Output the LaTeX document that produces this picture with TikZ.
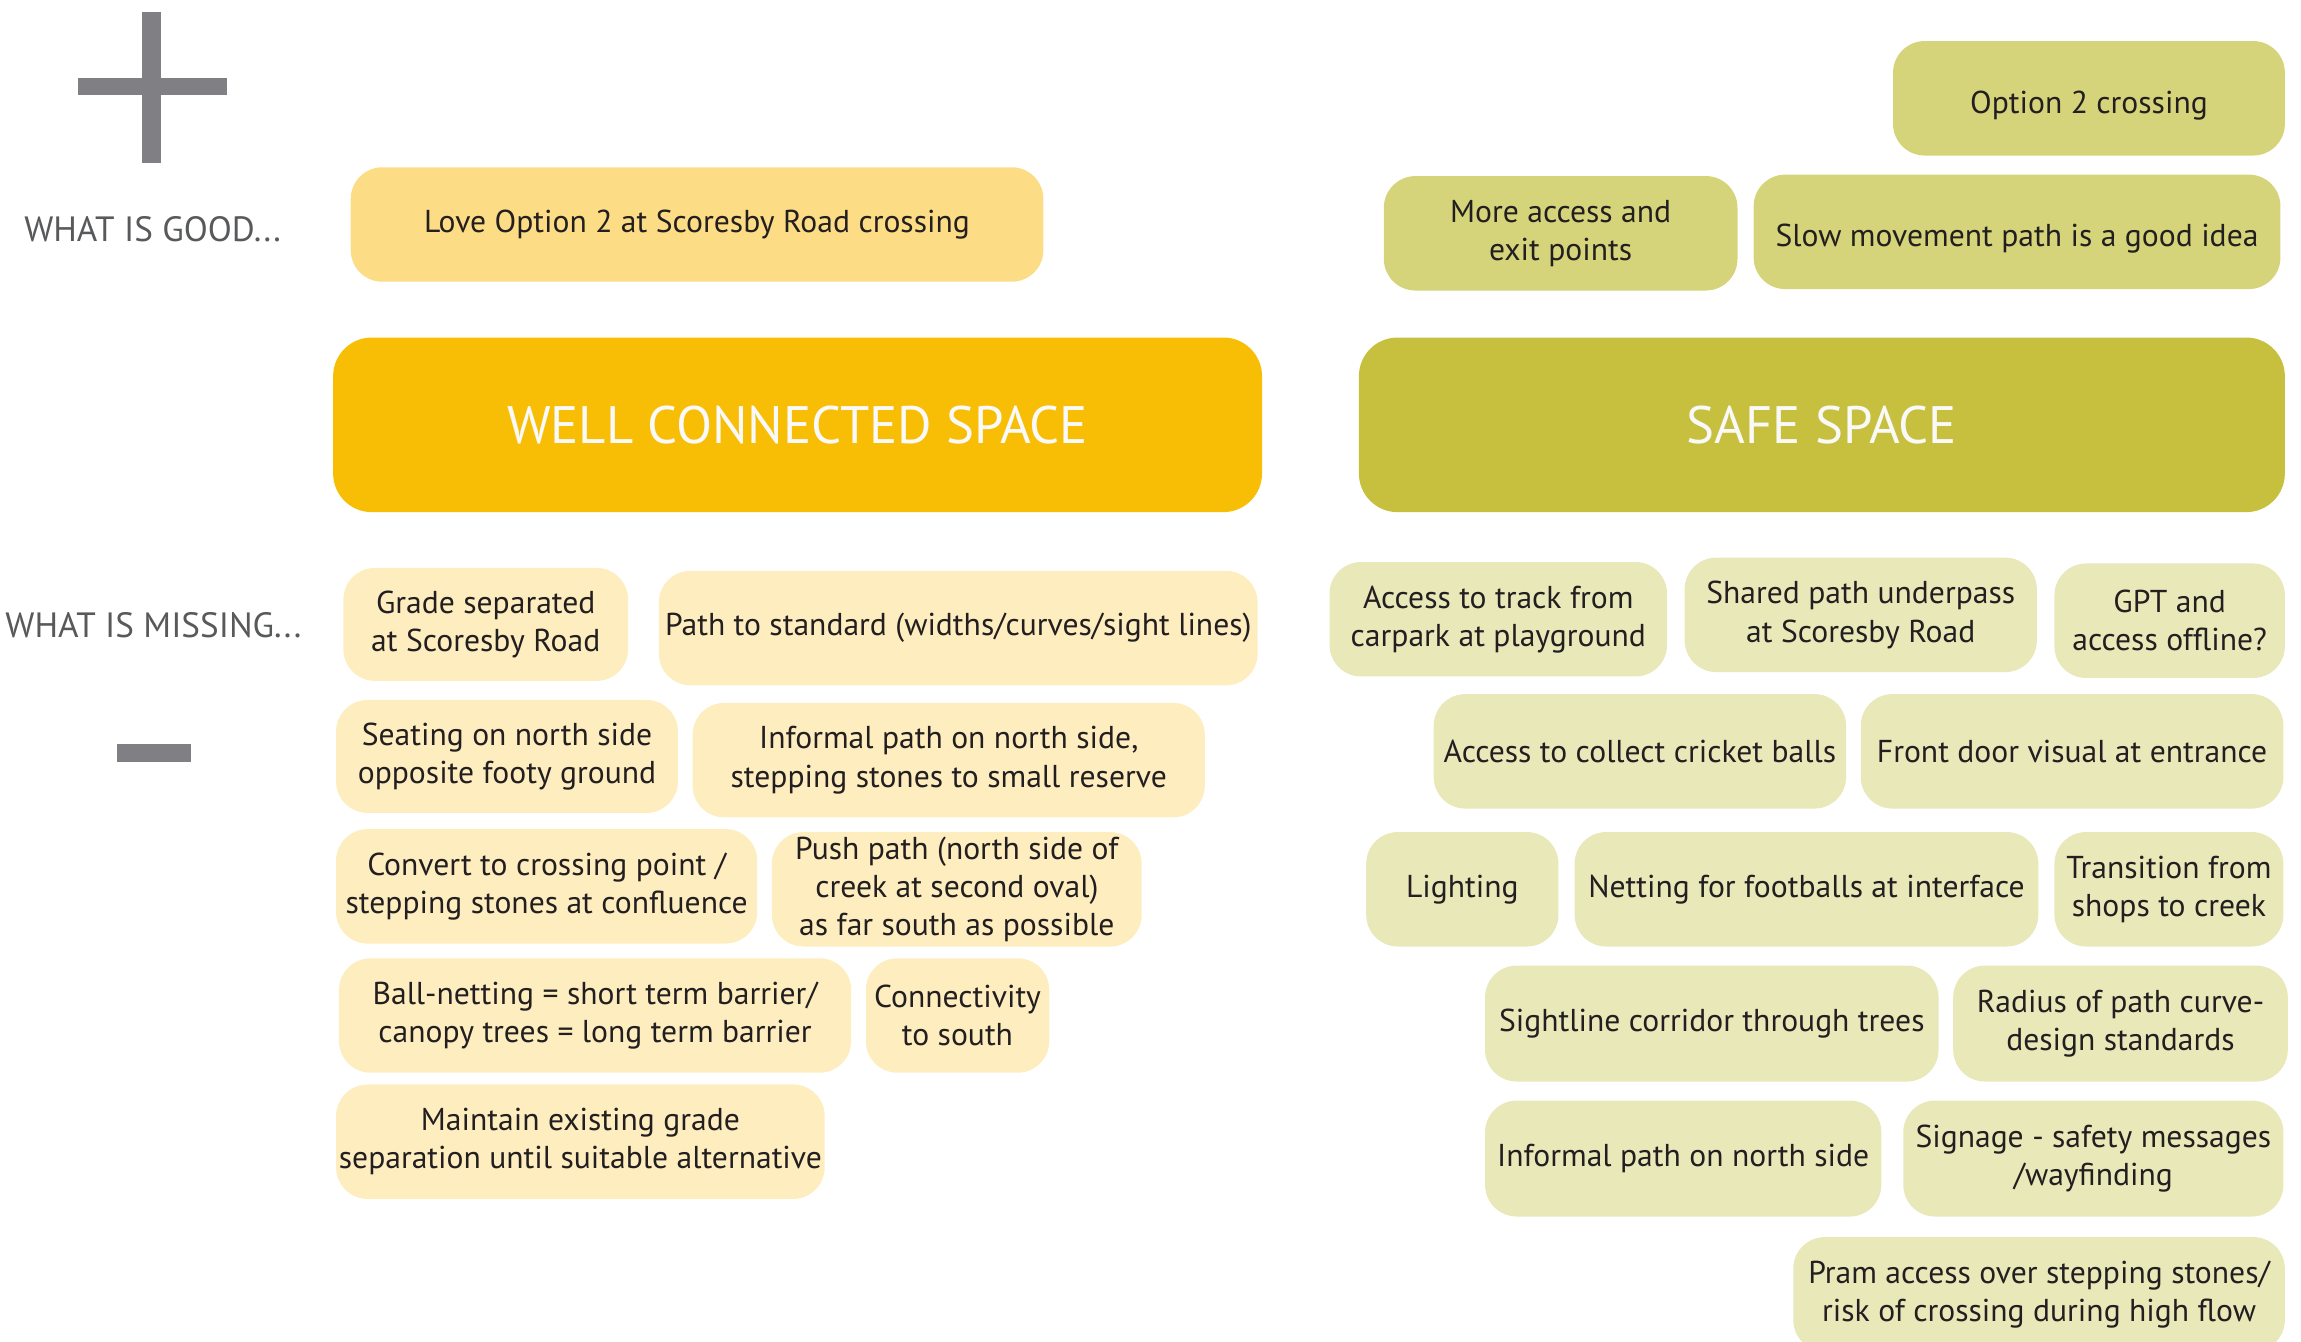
\documentclass[tikz,border=0pt]{standalone}
\usepackage{fontspec}
\setmainfont{PT Sans}
\definecolor{signgray}{HTML}{808084}
\definecolor{headgray}{HTML}{58595B}
\definecolor{inktext}{HTML}{231F20}
\definecolor{goodconn}{HTML}{FCDC84}
\definecolor{mainconn}{HTML}{F8BE06}
\definecolor{missconn}{HTML}{FDEDBF}
\definecolor{goodsafe}{HTML}{D6D47A}
\definecolor{mainsafe}{HTML}{C6C03E}
\definecolor{misssafe}{HTML}{E8E8B9}
\newcommand{\pxu}{0.014675cm}
\begin{document}
\begin{tikzpicture}[x=0.014675cm, y=-0.014675cm]

    \tikzset{
      idea/.style={
        rounded corners=9pt,
        align=center,
        inner sep=0pt,
        text=inktext,
        font=\fontsize{9}{10.9}\selectfont,
      },
      lowered/.style={
        execute at begin node={\rule{0pt}{10.5pt}},
      },
      boxsize/.style 2 args={
        minimum width=#1*\pxu,
        minimum height=#2*\pxu,
      },
      heading/.style={
        text=headgray,
        font=\fontsize{10}{12}\selectfont,
      },
      theme/.style={
        rounded corners=11pt,
        text=white!95!gray,
        font=\fontsize{15}{18}\selectfont,
      },
    }
    \useasboundingbox (0,0) rectangle (1568,914);
    \clip (0,0) rectangle (1568,914);

	\fill[signgray] (97,8) rectangle (110,111);
	\fill[signgray] (53,53) rectangle (155,65);
	\fill[signgray] (80,507) rectangle (130,519);
	\node[heading] (good) at (104,156) {WHAT IS GOOD...};
	\node[heading] (missing) at (104.5,426) {WHAT IS MISSING...};

	\node[idea, fill=goodconn, boxsize={472}{78}] (loveopt) at (475,153) {Love Option 2 at Scoresby Road crossing};
	\node[idea, lowered, fill=goodsafe, boxsize={267}{78}] (opttwo) at (1423.5,67) {Option 2 crossing};
	\node[idea, fill=goodsafe, boxsize={241}{78}] (moreacc) at (1063.5,159) {More access and\\exit points};
	\node[idea, lowered, fill=goodsafe, boxsize={359}{78}] (slowpath) at (1374.5,158) {Slow movement path is a good idea};

	\node[theme, fill=mainconn, boxsize={633}{119}] (wellconn) at (543.5,289.5) {WELL CONNECTED SPACE};
	\node[theme, fill=mainsafe, boxsize={631}{119}] (safe) at (1241.5,289.5) {SAFE SPACE};

	\node[idea, fill=missconn, boxsize={194}{77}] (grade) at (331,425.5) {Grade separated\\at Scoresby Road};
	\node[idea, fill=missconn, boxsize={408}{78}] (pathstd) at (653,428) {Path to standard (widths/curves/sight lines)};
	\node[idea, fill=missconn, boxsize={233}{77}] (seating) at (345.5,515.5) {Seating on north side\\opposite footy ground};
	\node[idea, fill=missconn, boxsize={349}{78}] (informal) at (646.5,518) {Informal path on north side,\\stepping stones to small reserve};
	\node[idea, fill=missconn, boxsize={287}{78}] (convert) at (372.5,604) {Convert to crossing point /\\stepping stones at confluence};
	\node[idea, fill=missconn, boxsize={252}{78}] (pushpath) at (652,606) {Push path (north side of\\creek at second oval)\\as far south as possible};
	\node[idea, fill=missconn, boxsize={349}{78}] (ballnet) at (405.5,692) {Ball-netting = short term barrier/\\canopy trees = long term barrier};
	\node[idea, fill=missconn, boxsize={125}{78}] (connect) at (652.5,692) {Connectivity\\to south};
	\node[idea, fill=missconn, boxsize={333}{78}] (maintain) at (395.5,778) {Maintain existing grade\\separation until suitable alternative};

	\node[idea, fill=misssafe, boxsize={230}{78}] (acctrack) at (1021,422) {Access to track from\\carpark at playground};
	\node[idea, fill=misssafe, boxsize={240}{78}] (shared) at (1268,419) {Shared path underpass\\at Scoresby Road};
	\node[idea, fill=misssafe, boxsize={157}{78}] (gpt) at (1478.5,423) {GPT and\\access offline?};
	\node[idea, fill=misssafe, boxsize={281}{78}] (cricket) at (1117.5,512) {Access to collect cricket balls};
	\node[idea, fill=misssafe, boxsize={288}{78}] (frontdoor) at (1412,512) {Front door visual at entrance};
	\node[idea, fill=misssafe, boxsize={131}{78}] (lighting) at (996.5,606) {Lighting};
	\node[idea, fill=misssafe, boxsize={316}{78}] (netting) at (1231,606) {Netting for footballs at interface};
	\node[idea, fill=misssafe, boxsize={156}{78}] (transition) at (1478,606) {Transition from\\shops to creek};
	\node[idea, fill=misssafe, boxsize={309}{79}] (sightline) at (1166.5,697.5) {Sightline corridor through trees};
	\node[idea, fill=misssafe, boxsize={228}{79}] (radius) at (1445,697.5) {Radius of path curve-\\design standards};
	\node[idea, fill=misssafe, boxsize={270}{79}] (informalnorth) at (1147,789.5) {Informal path on north side};
	\node[idea, fill=misssafe, boxsize={259}{79}] (signage) at (1426.5,789.5) {Signage - safety messages\\/wayfinding};
	\node[idea, fill=misssafe, boxsize={335}{78}] (pram) at (1389.5,882) {Pram access over stepping stones/\\risk of crossing during high flow};

\end{tikzpicture}
\end{document}
